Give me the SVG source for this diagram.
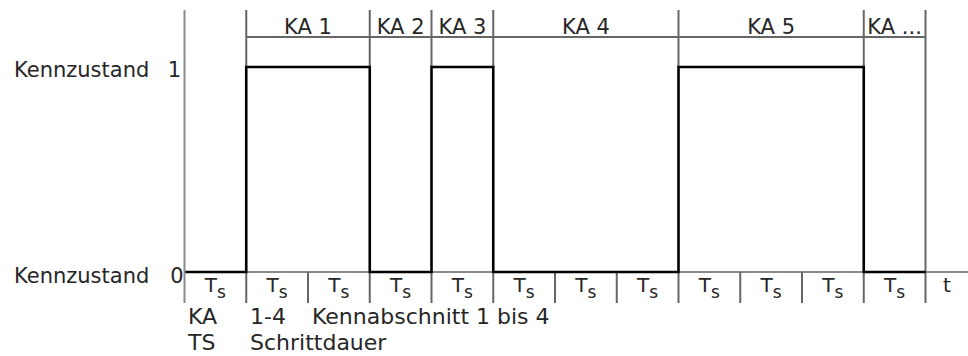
<svg xmlns="http://www.w3.org/2000/svg" width="968" height="356" viewBox="0 0 968 356">
<style>
  .txt { font-family: "DejaVu Sans", Verdana, sans-serif; fill: #262626; }
  .lbl { font-size: 21px; }
  .ts { font-size: 20px; text-anchor: middle; }
  .ka { font-size: 21px; text-anchor: middle; }
  .grid { stroke: #666; stroke-width: 2; fill: none; }
  .base { stroke: #8a8a8a; stroke-width: 2; fill: none; }
  .sig { stroke: #000; stroke-width: 2.6; fill: none; stroke-linejoin: miter; }
</style>
<rect width="968" height="356" fill="#fff"/>

<g id="axes">
  <line class="base" x1="184.5" y1="272" x2="968" y2="272"/>
  <line class="base" x1="184.5" y1="10" x2="184.5" y2="303"/>
  <line class="grid" x1="246.25" y1="37" x2="925.5" y2="37"/>
  <line class="grid" x1="925.5" y1="10" x2="925.5" y2="303"/>
</g>

<g id="section-marks">
  <line class="grid" x1="246.25" y1="10" x2="246.25" y2="67"/>
  <line class="grid" x1="369.75" y1="10" x2="369.75" y2="67"/>
  <line class="grid" x1="431.5" y1="10" x2="431.5" y2="67"/>
  <line class="grid" x1="493.25" y1="10" x2="493.25" y2="67"/>
  <line class="grid" x1="678.5" y1="10" x2="678.5" y2="67"/>
  <line class="grid" x1="863.75" y1="10" x2="863.75" y2="67"/>
</g>

<g id="step-ticks">
  <line class="grid" x1="246.25" y1="272" x2="246.25" y2="303"/>
  <line class="grid" x1="308" y1="272" x2="308" y2="303"/>
  <line class="grid" x1="369.75" y1="272" x2="369.75" y2="303"/>
  <line class="grid" x1="431.5" y1="272" x2="431.5" y2="303"/>
  <line class="grid" x1="493.25" y1="272" x2="493.25" y2="303"/>
  <line class="grid" x1="555" y1="272" x2="555" y2="303"/>
  <line class="grid" x1="616.75" y1="272" x2="616.75" y2="303"/>
  <line class="grid" x1="678.5" y1="272" x2="678.5" y2="303"/>
  <line class="grid" x1="740.25" y1="272" x2="740.25" y2="303"/>
  <line class="grid" x1="802" y1="272" x2="802" y2="303"/>
  <line class="grid" x1="863.75" y1="272" x2="863.75" y2="303"/>
</g>

<g id="signal">
  <polyline class="sig" points="185.5,272 246.25,272 246.25,67 369.75,67 369.75,272 431.5,272 431.5,67 493.25,67 493.25,272 678.5,272 678.5,67 863.75,67 863.75,272 925.5,272"/>
</g>

<g id="section-labels" class="txt">
  <text class="ka" x="308" y="34">KA 1</text>
  <text class="ka" x="400.6" y="34">KA 2</text>
  <text class="ka" x="462.4" y="34">KA 3</text>
  <text class="ka" x="585.9" y="34">KA 4</text>
  <text class="ka" x="771.1" y="34">KA 5</text>
  <text class="ka" x="894.6" y="34">KA ...</text>
</g>

<g id="state-labels" class="txt lbl">
  <text x="14" y="77">Kennzustand</text>
  <text x="181" y="77" text-anchor="end">1</text>
  <text x="14" y="283">Kennzustand</text>
  <text x="183.5" y="283" text-anchor="end">0</text>
</g>

<g id="step-labels" class="txt">
  <text class="ts" x="215.4" y="292">T<tspan font-size="17" dy="6">s</tspan></text>
  <text class="ts" x="277.1" y="292">T<tspan font-size="17" dy="6">s</tspan></text>
  <text class="ts" x="338.9" y="292">T<tspan font-size="17" dy="6">s</tspan></text>
  <text class="ts" x="400.6" y="292">T<tspan font-size="17" dy="6">s</tspan></text>
  <text class="ts" x="462.4" y="292">T<tspan font-size="17" dy="6">s</tspan></text>
  <text class="ts" x="524.1" y="292">T<tspan font-size="17" dy="6">s</tspan></text>
  <text class="ts" x="585.9" y="292">T<tspan font-size="17" dy="6">s</tspan></text>
  <text class="ts" x="647.6" y="292">T<tspan font-size="17" dy="6">s</tspan></text>
  <text class="ts" x="709.4" y="292">T<tspan font-size="17" dy="6">s</tspan></text>
  <text class="ts" x="771.1" y="292">T<tspan font-size="17" dy="6">s</tspan></text>
  <text class="ts" x="832.9" y="292">T<tspan font-size="17" dy="6">s</tspan></text>
  <text class="ts" x="894.6" y="292">T<tspan font-size="17" dy="6">s</tspan></text>
  <text class="ts" x="947" y="292">t</text>
</g>

<g id="legend" class="txt" font-size="22">
  <text x="188" y="324">KA</text>
  <text x="250" y="324">1-4</text>
  <text x="312" y="324">Kennabschnitt 1 bis 4</text>
  <text x="188" y="350">TS</text>
  <text x="250" y="350">Schrittdauer</text>
</g>
</svg>
